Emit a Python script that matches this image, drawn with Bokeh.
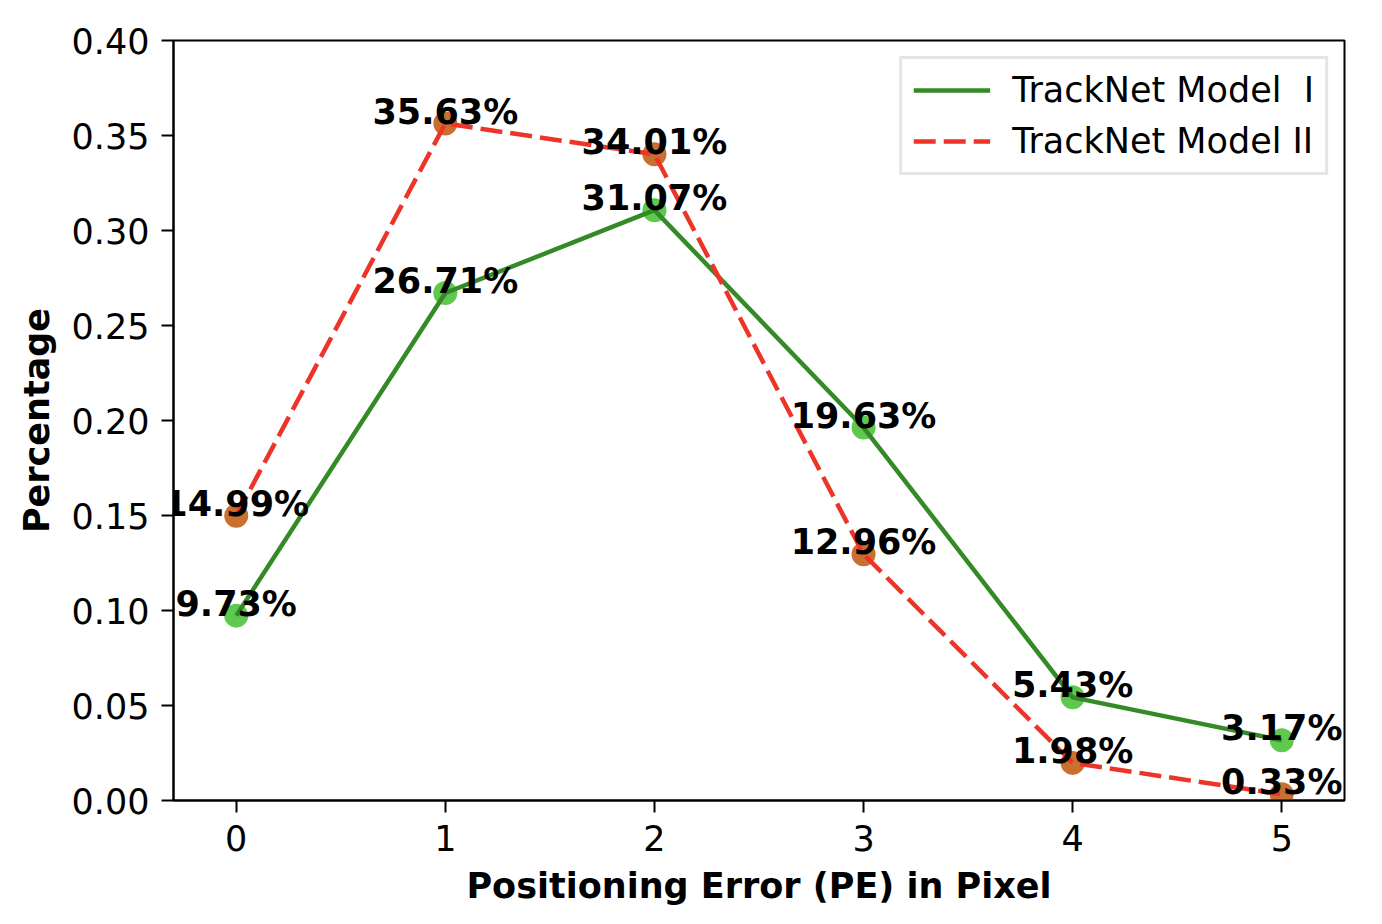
from bokeh.plotting import figure
from bokeh.models import Range1d, FixedTicker, PrintfTickFormatter, ColumnDataSource, Legend, LegendItem, LabelSet
from bokeh.core.properties import value
from bokeh.embed import file_html
from bokeh.resources import INLINE

pe = [0, 1, 2, 3, 4, 5]
model1 = [0.0973, 0.2671, 0.3107, 0.1963, 0.0543, 0.0317]
model2 = [0.1499, 0.3563, 0.3401, 0.1296, 0.0198, 0.0033]
label1 = ["9.73%", "26.71%", "31.07%", "19.63%", "5.43%", "3.17%"]
label2 = ["14.99%", "35.63%", "34.01%", "12.96%", "1.98%", "0.33%"]
x_ticks = [0, 1, 2, 3, 4, 5]
y_ticks = [0.0, 0.05, 0.10, 0.15, 0.20, 0.25, 0.30, 0.35, 0.40]

FONT = "DejaVu Sans"
FS = "35px"

p = figure(frame_width=1171, frame_height=760,
           min_border_left=173, min_border_top=40, min_border_right=20, min_border_bottom=100,
           x_range=Range1d(-0.3, 5.3), y_range=Range1d(0, 0.40),
           output_backend="svg", toolbar_location=None)

p.xgrid.visible = False
p.ygrid.visible = False
p.outline_line_color = "black"
p.outline_line_width = 2
p.outline_line_alpha = 1.0

for ax in (p.xaxis[0], p.yaxis[0]):
    ax.axis_line_color = "black"
    ax.axis_line_width = 2
    ax.major_tick_line_color = "black"
    ax.major_tick_line_width = 2
    ax.major_tick_out = 12
    ax.major_tick_in = 0
    ax.minor_tick_line_color = None
    ax.major_label_text_font = FONT
    ax.major_label_text_font_size = FS
    ax.major_label_text_color = "black"
    ax.major_label_standoff = 12
    ax.axis_label_text_font = FONT
    ax.axis_label_text_font_size = FS
    ax.axis_label_text_font_style = "bold"
    ax.axis_label_text_color = "black"

p.xaxis.ticker = FixedTicker(ticks=x_ticks)
p.yaxis.ticker = FixedTicker(ticks=y_ticks)
p.yaxis.formatter = PrintfTickFormatter(format="%.2f")
p.xaxis.axis_label = "Positioning Error (PE) in Pixel"
p.yaxis.axis_label = "Percentage"
p.xaxis.axis_label_standoff = 12
p.yaxis.axis_label_standoff = 12

s1 = ColumnDataSource(dict(x=pe, y=model1, t=label1))
s2 = ColumnDataSource(dict(x=pe, y=model2, t=label2))

p.scatter("x", "y", source=s1, size=24, fill_color="#5ec94e", line_color=None)
p.scatter("x", "y", source=s2, size=24, fill_color="#c96f30", line_color=None)

r1 = p.line("x", "y", source=s1, line_color="#348a26", line_width=4.5)
r2 = p.line("x", "y", source=s2, line_color="#ec3528", line_width=4.5, line_dash="22 8")

for s in (s1, s2):
    ls = LabelSet(x="x", y="y", text="t", source=s, text_font=value(FONT),
                  text_font_size=value(FS), text_font_style=value("bold"),
                  text_align=value("center"), text_baseline=value("alphabetic"),
                  text_color=value("black"), level="overlay")
    p.add_layout(ls)

legend = Legend(items=[LegendItem(label="TrackNet Model  I", renderers=[r1]),
                       LegendItem(label="TrackNet Model II", renderers=[r2])],
                location="top_right")
legend.label_text_font = FONT
legend.label_text_font_size = FS
legend.label_text_color = "black"
legend.glyph_width = 77
legend.glyph_height = 40
legend.label_height = 40
legend.label_standoff = 22
legend.spacing = 11
legend.padding = 11
legend.margin = 16
legend.border_line_color = "#cccccc"
legend.border_line_width = 3
legend.background_fill_alpha = 0.8
p.add_layout(legend)

open("out.html", "w").write(file_html(p, INLINE))
